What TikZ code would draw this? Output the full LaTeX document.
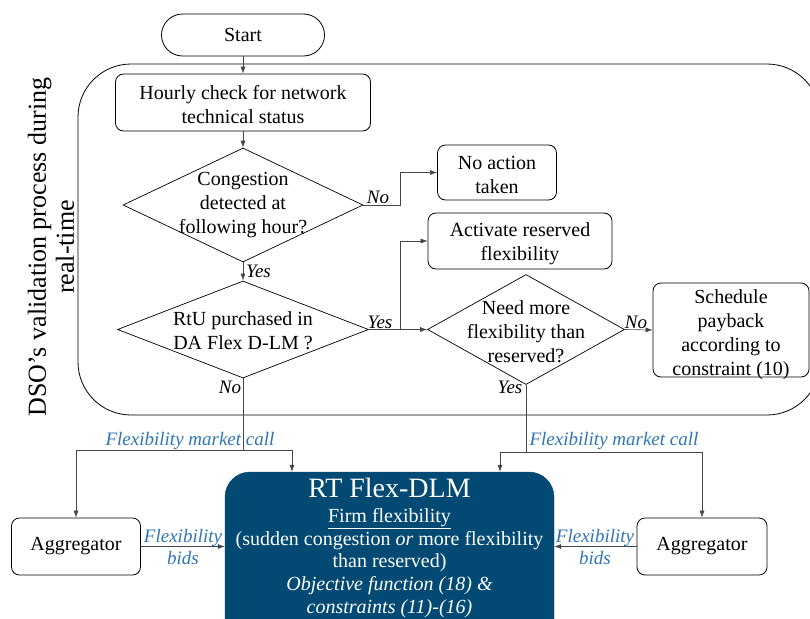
\documentclass[tikz,border=0pt]{standalone}
\usepackage{fontspec}
\setmainfont{Liberation Serif}
\usetikzlibrary{shapes.geometric,arrows.meta}
\definecolor{flexblue}{RGB}{46,117,182}
\definecolor{rtblue}{RGB}{2,73,115}
\definecolor{conn}{RGB}{70,70,70}
\begin{document}
\begin{tikzpicture}[x=1pt,y=-1pt,
  box/.style={draw, line width=0.8pt, rounded corners=8pt, align=center, inner sep=0pt,
    font=\fontsize{20}{24}\selectfont},
  dia/.style={draw, line width=0.7pt, diamond, inner sep=0pt},
  txt/.style={align=center, inner sep=0pt, font=\fontsize{20}{24}\selectfont},
  lbl/.style={inner sep=0pt, font=\fontsize{19}{22}\selectfont\itshape},
  blbl/.style={lbl, text=flexblue, align=center},
  arr/.style={-{Latex[length=7pt,width=5pt]}, line width=0.6pt, draw=conn},
  ln/.style={line width=0.6pt, draw=conn}]
\useasboundingbox (0,0) rectangle (810,618);
% container
\draw[line width=0.8pt, rounded corners=53pt] (78,64) rectangle (820,415);
% vertical title
\node[rotate=90, align=center, inner sep=0pt, font=\fontsize{26}{28}\selectfont] (dso) at (51,247)
  {DSO's validation process during\\real-time};
% nodes
\node[box, rounded corners=21pt, minimum width=163pt, minimum height=42pt] (start) at (243,35) {Start};
\node[box, minimum width=255pt, minimum height=57pt] (hourly) at (243,102.5) {};
\node[txt] (hourlyt) at (243,105) {Hourly check for network\\technical status};
\node[dia, minimum width=240pt, minimum height=114pt] (d1) at (243,205) {};
\node[txt] (d1t) at (243,205) {Congestion\\detected at\\following hour?};
\node[box, minimum width=119pt, minimum height=55pt] (noact) at (497,172.5) {};
\node[txt] (noactt) at (497,174.5) {No action\\taken};
\node[dia, minimum width=251pt, minimum height=97pt] (d2) at (243,329.5) {};
\node[txt] (d2t) at (243,330.5) {RtU purchased in\\DA Flex D-LM ?};
\node[box, minimum width=184pt, minimum height=56pt] (act) at (520,241) {};
\node[txt] (actt) at (520,244) {Activate reserved\\flexibility};
\node[dia, minimum width=197pt, minimum height=110pt] (d3) at (526,329.5) {};
\node[txt] (d3t) at (526,331.5) {Need more\\flexibility than\\reserved?};
\node[box, minimum width=156pt, minimum height=94pt] (sched) at (731,330) {};
\node[txt] (schedt) at (731,335) {Schedule\\payback\\according to\\constraint (10)};
\node[draw=rtblue, fill=rtblue, rounded corners=25pt, minimum width=329pt, minimum height=178pt, inner sep=0pt] (rt) at (389.5,561) {};
\node[inner sep=0pt, text=white, font=\fontsize{28}{30}\selectfont] (rtt) at (389.5,488) {RT Flex-DLM};
\node[txt, text=white, font=\fontsize{20}{22.8}\selectfont] (rtb) at (389.5,563)
  {\underline{Firm flexibility}\\(sudden congestion \textit{or} more flexibility\\than reserved)\\\textit{Objective function (18) \&}\\\textit{constraints (11)-(16)}};
\node[box, minimum width=129pt, minimum height=57pt] (agl) at (76,546.5) {Aggregator};
\node[box, minimum width=130pt, minimum height=57pt] (agr) at (702,546.5) {Aggregator};
% connectors
\draw[arr] (start) -- (hourly);
\draw[arr] (hourly) -- (d1);
\draw[arr] (d1.east) -- ++(37,0) |- (noact.west);
\node[lbl] (no1) at (378,197) {No};
\draw[arr] (d1.south) -- (d2.north);
\node[lbl, anchor=west] (yes1) at (246,271) {Yes};
\coordinate (split) at (400,329.5);
\draw[arr] (d2.east) -- (d3.west);
\draw[arr] (split) |- (act.west);
\node[lbl] (yes2) at (380,322) {Yes};
\draw[arr] (d3.east) -- (sched.west);
\node[lbl] (no2) at (636,322) {No};
\node[lbl] (no3) at (230,387) {No};
\node[lbl] (yes3) at (510,387) {Yes};
\coordinate (jl) at (243,450);
\coordinate (jr) at (526,452);
\draw[ln] (d2.south) -- (jl);
\draw[arr] (jl) -| (agl.north);
\draw[arr] (jl) -| ([xshift=-97.5pt]rt.north);
\draw[ln] (d3.south) -- (jr);
\draw[arr] (jr) -| ([xshift=110.5pt]rt.north);
\draw[arr] (jr) -| (agr.north);
\node[blbl] (fmcl) at (190,441) {Flexibility market call};
\node[blbl] (fmcr) at (614,441) {Flexibility market call};
\draw[arr] (agl.east) -- (agl.east -| rt.west);
\draw[arr] (agr.west) -- (agr.west -| rt.east);
\node[blbl] (fbl) at (183,547) {Flexibility\\bids};
\node[blbl] (fbr) at (595,547) {Flexibility\\bids};
\end{tikzpicture}
\end{document}
